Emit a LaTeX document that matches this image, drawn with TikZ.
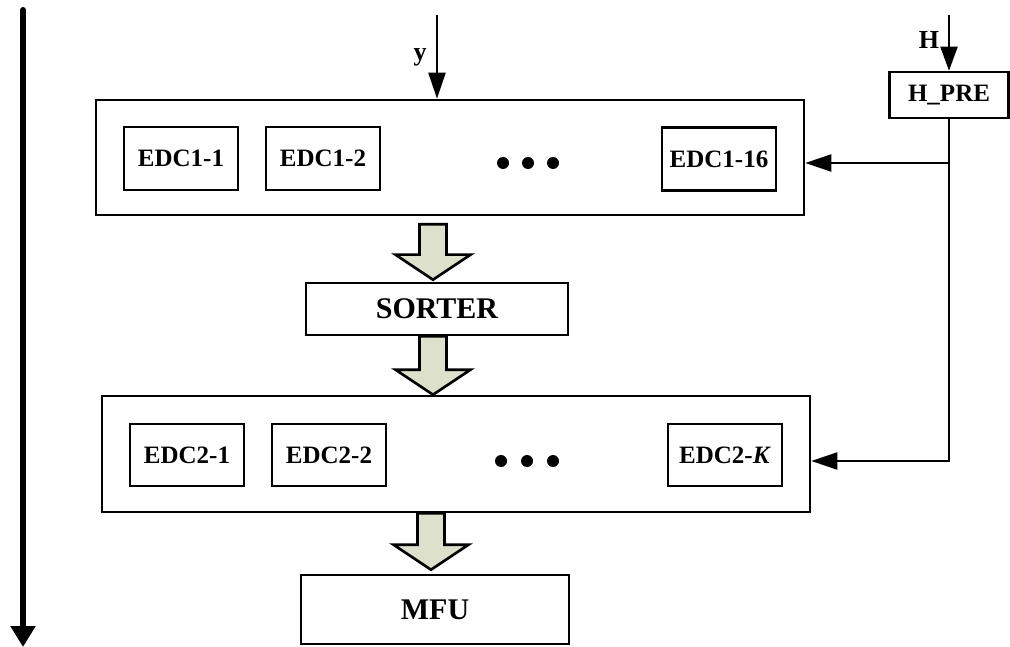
\documentclass[tikz,border=0pt]{standalone}
\usepackage{fontspec}
\setmainfont{Liberation Serif}
\usetikzlibrary{arrows.meta,calc}
\definecolor{flowfill}{RGB}{221,224,203}
\newcommand{\fatarrow}[2]{%
  \draw[fatstyle] let \p1=#1, \p2=#2 in
    (\x1-13.5pt,\y1) -- (\x1-13.5pt,\y2+25pt) -- (\x1-37.5pt,\y2+25pt) --
    (\x1,\y2) -- (\x1+37.5pt,\y2+25pt) -- (\x1+13.5pt,\y2+25pt) --
    (\x1+13.5pt,\y1) -- cycle;}
\begin{document}
\begin{tikzpicture}[x=1pt,y=-1pt,
  outerbox/.style={draw,line width=2.6pt,minimum width=708pt,minimum height=115pt,inner sep=0pt},
  unitbox/.style={draw,line width=2.6pt,minimum width=114pt,minimum height=63pt,inner sep=0pt,
    font=\fontsize{25}{30}\selectfont\bfseries},
  stagebox/.style={draw,line width=2.6pt,inner sep=0pt,font=\fontsize{30}{36}\selectfont\bfseries},
  sig/.style={line width=2.2pt,-{Triangle[length=26pt,width=17pt]}},
  feed/.style={line width=2.2pt},
  fatstyle/.style={draw,line width=2.6pt,fill=flowfill,line join=miter},
  lbl/.style={font=\fontsize{26}{30}\selectfont\bfseries,inner sep=0pt},
  dot/.style={fill,circle,inner sep=0pt,minimum size=12pt}]
\useasboundingbox (0,0) rectangle (1010,647);

% time axis on the left
\coordinate (ttop) at (23,10);
\coordinate (tbot) at (23,647);
\draw[line width=6pt,line cap=round,-{Triangle[length=21pt,width=24pt]}] (ttop) -- (tbot);

% first stage
\node[outerbox] (box1) at (450,157.5) {};
\node[unitbox] (e11) at (181,158.5) {EDC1-1};
\node[unitbox] (e12) at (323,158.5) {EDC1-2};
\node[unitbox] (e116) at (719,159) {EDC1-16};
\node[dot] (d11) at (503,163) {};
\node[dot] (d12) at (528,163) {};
\node[dot] (d13) at (553,163) {};

% sorter
\node[stagebox,minimum width=262pt,minimum height=52pt] (sorter) at (437,309) {SORTER};

% second stage
\node[outerbox,minimum height=116pt] (box2) at (456,454) {};
\node[unitbox,minimum height=62pt] (e21) at (187,455) {EDC2-1};
\node[unitbox,minimum height=62pt] (e22) at (329,455) {EDC2-2};
\node[unitbox,minimum height=62pt] (e2k) at (725,455) {EDC2-\textit{K}};
\node[dot] (d21) at (501,461) {};
\node[dot] (d22) at (527,461) {};
\node[dot] (d23) at (553,461) {};

% output
\node[stagebox,minimum width=268pt,minimum height=69pt] (mfu) at (435,609.5) {MFU};

% channel preprocessing
\node[stagebox,font=\fontsize{25}{30}\selectfont\bfseries,minimum width=119pt,minimum height=46pt] (hpre) at (949,95) {H\_PRE};

% inputs
\coordinate (yin) at (437,15);
\coordinate (hin) at (949,15);
\draw[sig] (yin) -- (yin |- box1.north);
\node[lbl] (ylab) at (420,57) {y};
\draw[line width=2.2pt,-{Triangle[length=24pt,width=17pt]}] (hin) -- (hpre.north);
\node[lbl] (hlab) at (929,40) {H};

% channel matrix feed to both stages
\coordinate (hb1) at (hpre.south |- d11.center);
\coordinate (hb2) at (hpre.south |- d21.center);
\draw[feed,line cap=rect] (hpre.south) -- (hb2);
\draw[sig] (hb1) -- (hb1 -| box1.east);
\draw[sig] (hb2) -- (hb2 -| box2.east);

% data flow between stages
\coordinate (ax1) at (433,0);
\coordinate (ax3) at (431,0);
\fatarrow{([yshift=-8pt]box1.south -| ax1)}{([yshift=2pt]sorter.north -| ax1)}
\fatarrow{(sorter.south -| ax1)}{(box2.north -| ax1)}
\fatarrow{(box2.south -| ax3)}{([yshift=4pt]mfu.north -| ax3)}
\end{tikzpicture}
\end{document}
